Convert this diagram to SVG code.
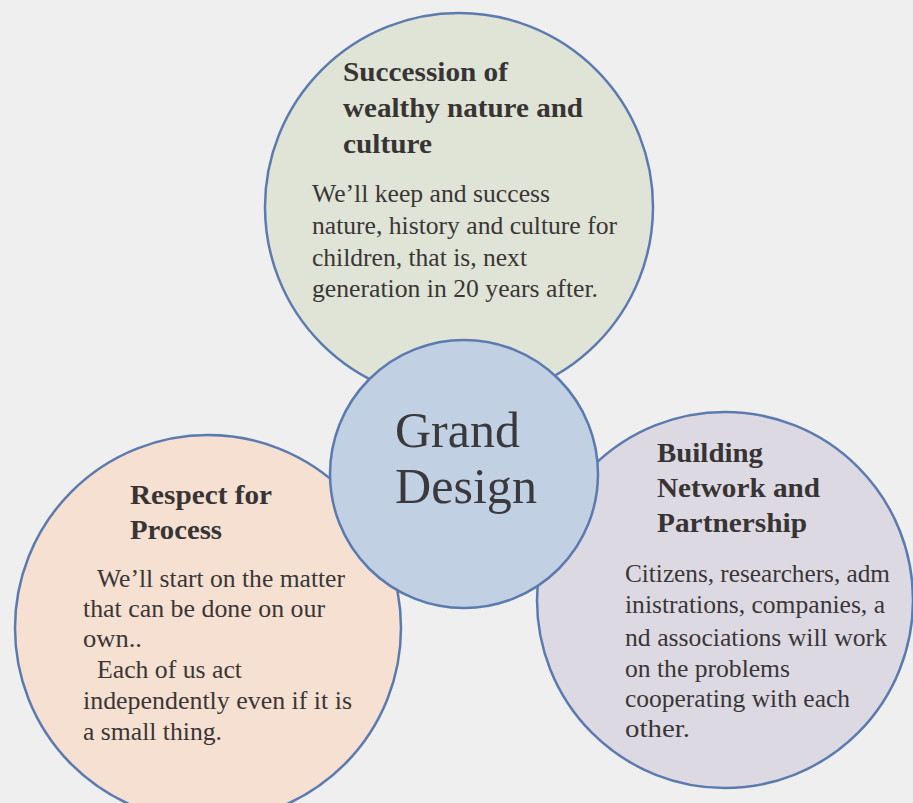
<svg xmlns="http://www.w3.org/2000/svg" width="913" height="803" viewBox="0 0 913 803">
<style>
.c{stroke:#5b7bb0;stroke-width:2.5}
.t{font-family:"Liberation Serif","Times New Roman",serif;font-weight:bold;font-size:28px;fill:#383434}
.b{font-family:"Liberation Serif","Times New Roman",serif;font-size:25px;fill:#3a3636}
.g{font-family:"Liberation Serif","Times New Roman",serif;font-size:50px;fill:#3a3a3e}
</style>
<rect width="913" height="803" fill="#efefef"/>
<g id="connectors"/>
<g id="node-top">
<circle class="c" cx="459" cy="207" r="194" fill="#dfe4d6"/>
<text class="t" x="343" y="81" textLength="165" lengthAdjust="spacingAndGlyphs">Succession of</text>
<text class="t" x="343" y="117" textLength="240" lengthAdjust="spacingAndGlyphs">wealthy nature and</text>
<text class="t" x="343" y="153" textLength="89" lengthAdjust="spacingAndGlyphs">culture</text>
<text class="b" x="312" y="202" textLength="238" lengthAdjust="spacingAndGlyphs">We’ll keep and success</text>
<text class="b" x="312" y="234" textLength="305" lengthAdjust="spacingAndGlyphs">nature, history and culture for</text>
<text class="b" x="312" y="266" textLength="215" lengthAdjust="spacingAndGlyphs">children, that is, next</text>
<text class="b" x="312" y="297" textLength="286" lengthAdjust="spacingAndGlyphs">generation in 20 years after.</text>
</g>
<g id="node-left">
<circle class="c" cx="208" cy="628" r="193" fill="#f5e0d2"/>
<text class="t" x="130" y="504" textLength="142" lengthAdjust="spacingAndGlyphs">Respect for</text>
<text class="t" x="130" y="539" textLength="92" lengthAdjust="spacingAndGlyphs">Process</text>
<text class="b" x="97" y="587" textLength="248" lengthAdjust="spacingAndGlyphs">We’ll start on the matter</text>
<text class="b" x="83" y="617" textLength="242" lengthAdjust="spacingAndGlyphs">that can be done on our</text>
<text class="b" x="83" y="647" textLength="59" lengthAdjust="spacingAndGlyphs">own..</text>
<text class="b" x="97" y="678" textLength="145" lengthAdjust="spacingAndGlyphs">Each of us act</text>
<text class="b" x="83" y="709" textLength="269" lengthAdjust="spacingAndGlyphs">independently even if it is</text>
<text class="b" x="83" y="740" textLength="139" lengthAdjust="spacingAndGlyphs">a small thing.</text>
</g>
<g id="node-right">
<circle class="c" cx="725" cy="600" r="188" fill="#ddd9e3"/>
<text class="t" x="657" y="462" textLength="106" lengthAdjust="spacingAndGlyphs">Building</text>
<text class="t" x="657" y="497" textLength="163" lengthAdjust="spacingAndGlyphs">Network and</text>
<text class="t" x="657" y="532" textLength="150" lengthAdjust="spacingAndGlyphs">Partnership</text>
<text class="b" x="625" y="582" textLength="265" lengthAdjust="spacingAndGlyphs">Citizens, researchers, adm</text>
<text class="b" x="625" y="613" textLength="260" lengthAdjust="spacingAndGlyphs">inistrations, companies, a</text>
<text class="b" x="625" y="646" textLength="262" lengthAdjust="spacingAndGlyphs">nd associations will work</text>
<text class="b" x="625" y="677" textLength="165" lengthAdjust="spacingAndGlyphs">on the problems</text>
<text class="b" x="625" y="707" textLength="225" lengthAdjust="spacingAndGlyphs">cooperating with each</text>
<text class="b" x="625" y="737" textLength="65" lengthAdjust="spacingAndGlyphs">other.</text>
</g>
<g id="node-center">
<circle class="c" cx="464" cy="474" r="134" fill="#c2d0e3"/>
<text class="g" x="395" y="447" textLength="125" lengthAdjust="spacingAndGlyphs">Grand</text>
<text class="g" x="395" y="503" textLength="142" lengthAdjust="spacingAndGlyphs">Design</text>
</g>
</svg>
